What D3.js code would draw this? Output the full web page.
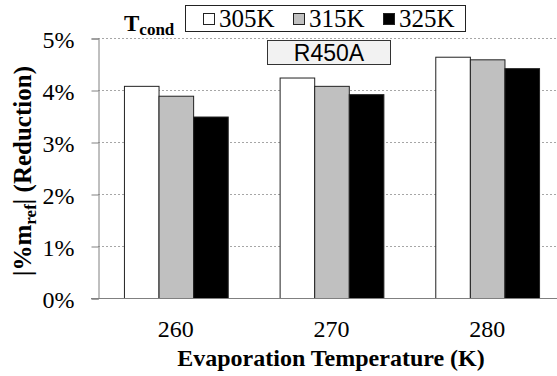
<!DOCTYPE html>
<html><head><meta charset="utf-8">
<script src="https://cdn.jsdelivr.net/npm/d3@7"></script>
<style>body{margin:0;background:#fff}svg{display:block}</style>
</head><body>
<svg id="c" width="557" height="376" font-family="Liberation Serif, Times New Roman, serif"></svg>
<script>
const categories = ["260", "270", "280"];
const series = ["305K", "315K", "325K"];
const v305 = [0.0408, 0.0424, 0.0464];
const v315 = [0.0389, 0.0408, 0.0459];
const v325 = [0.0349, 0.0392, 0.0442];
const yTicks = [0, 0.01, 0.02, 0.03, 0.04, 0.05];
const colors = ["#ffffff", "#c0c0c0", "#000000"];
const values = [v305, v315, v325];

(function () {
const svg = d3.select("#c");
const serif = "Liberation Serif, Times New Roman, serif";
const pLeft = 98, pRight = 565, pTop = 38, pBottom = 298;

const x0 = d3.scaleBand().domain(categories).range([pLeft, pRight]).padding(0);
const x1 = d3.scaleBand().domain(series).range([0, x0.bandwidth()]).paddingInner(0).paddingOuter(0.75);
const y = d3.scaleLinear().domain([0, 0.05]).range([pBottom, pTop]);

// gridlines
svg.append("g").selectAll("line").data(yTicks.filter(d => d > 0)).join("line")
  .attr("x1", pLeft).attr("x2", 557).attr("y1", d => y(d) + 0.5).attr("y2", d => y(d) + 0.5)
  .attr("stroke", "#a6a6a6").attr("stroke-width", 1).attr("stroke-dasharray", "2,2");

// bars
const g = svg.append("g");
categories.forEach((c, ci) => {
  series.forEach((s, si) => {
    const val = values[si][ci];
    g.append("rect")
      .attr("x", x0(c) + x1(s) + 0.5).attr("y", y(val) + 0.5)
      .attr("width", x1.bandwidth()).attr("height", y(0) - y(val))
      .attr("fill", colors[si]).attr("stroke", "#222").attr("stroke-width", 1);
  });
});

// y axis
const yAxis = d3.axisLeft(y).tickValues(yTicks).tickFormat(d3.format(".0%")).tickSizeOuter(0).tickSize(7).tickPadding(17);
const ya = svg.append("g").attr("transform", `translate(${pLeft + 0.5},0.5)`).call(yAxis);
ya.attr("font-family", serif);
ya.select(".domain").attr("stroke", "#808080");
ya.selectAll(".tick line").attr("stroke", "#808080");
ya.selectAll(".tick text").style("font-family", serif).attr("font-size", 24).attr("fill", "#000").attr("dy", "0.36em");

// x axis
const xAxis = d3.axisBottom(x0).tickSize(0).tickPadding(21);
const xa = svg.append("g").attr("transform", `translate(0,${pBottom + 0.5})`).call(xAxis);
xa.attr("font-family", serif);
xa.select(".domain").attr("stroke", "#808080").attr("d", `M${pLeft - 7},0H557`);
xa.selectAll(".tick text").style("font-family", serif).attr("font-size", 24).attr("fill", "#000");

// axis titles
svg.append("text").attr("x", 331).attr("y", 366).attr("text-anchor", "middle")
  .style("font-family", serif).attr("font-size", 24).attr("font-weight", "bold")
  .text("Evaporation Temperature (K)");

const yt = svg.append("text").attr("transform", "translate(31,171) rotate(-90)").attr("text-anchor", "middle")
  .style("font-family", serif).attr("font-size", 25).attr("font-weight", "bold");
yt.append("tspan").text("|%m");
yt.append("tspan").attr("font-size", 17).attr("dy", 5).text("ref");
yt.append("tspan").attr("dy", -5).text("| (Reduction)");

// legend
const lt = svg.append("text").attr("x", 124).attr("y", 31)
  .style("font-family", serif).attr("font-size", 23).attr("font-weight", "bold");
lt.append("tspan").text("T");
lt.append("tspan").attr("font-size", 17).attr("dy", 4).text("cond");

svg.append("rect").attr("x", 185.5).attr("y", 5.5).attr("width", 280).attr("height", 26)
  .attr("fill", "#fff").attr("stroke", "#222");
series.forEach((s, i) => {
  const lx = 203 + i * 90;
  svg.append("rect").attr("x", lx + 0.5).attr("y", 13.5).attr("width", 11).attr("height", 11)
    .attr("fill", colors[i]).attr("stroke", "#222");
  svg.append("text").attr("x", lx + 16).attr("y", 27)
    .style("font-family", serif).attr("font-size", 25).attr("fill", "#000").text(s);
});

// annotation box
svg.append("rect").attr("x", 267.5).attr("y", 40.5).attr("width", 123).attr("height", 24)
  .attr("fill", "#f2f2f2").attr("stroke", "#333");
svg.append("text").attr("x", 329).attr("y", 61).attr("text-anchor", "middle")
  .style("font-family", "Liberation Sans, Arial, sans-serif").attr("font-size", 23).attr("fill", "#000")
  .text("R450A");
})();
</script>
</body></html>
